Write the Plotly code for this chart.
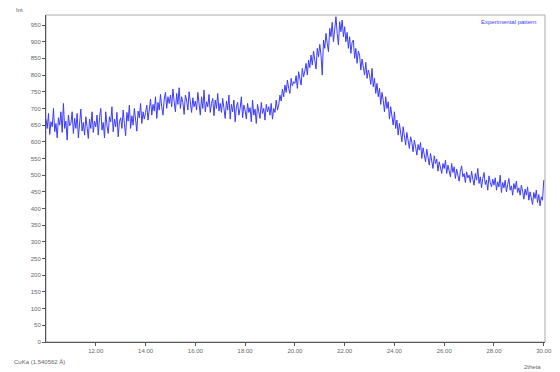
import numpy as np
import plotly.graph_objects as go

# 2-theta scan grid (degrees), 0.05 deg step from 10 to 30
two_theta_start = 10.0
two_theta_step = 0.05

# Measured intensities, one row per degree
intensity = [
    668, 640, 685, 622, 660, 645, 700, 630, 655, 612, 672, 650, 690, 628, 715, 640, 662, 605, 680, 648,
    655, 690, 625, 670, 640, 685, 612, 660, 698, 632, 658, 620, 675, 645, 610, 668, 640, 690, 628, 662,
    645, 680, 620, 672, 700, 635, 658, 612, 690, 648, 625, 675, 660, 705, 630, 668, 645, 688, 615, 660,
    672, 640, 695, 655, 618, 688, 662, 710, 640, 678, 650, 700, 668, 632, 692, 672, 715, 655, 690, 668,
    688, 710, 665, 700, 728, 680, 712, 692, 735, 670, 718, 695, 742, 705, 680, 728, 748, 700, 735, 715,
    740, 705, 758, 720, 690, 745, 712, 762, 700, 735, 718, 682, 740, 725, 695, 750, 712, 688, 732, 705,
    722, 695, 748, 710, 680, 735, 700, 755, 690, 720, 705, 742, 688, 715, 730, 678, 725, 700, 745, 692,
    715, 688, 730, 700, 670, 722, 695, 740, 668, 712, 690, 725, 660, 705, 718, 680, 700, 735, 672, 710,
    695, 668, 715, 688, 702, 660, 725, 680, 698, 655, 712, 690, 670, 718, 685, 700, 665, 712, 690, 705,
    680, 715, 668, 700, 688, 725, 695, 710, 740, 722, 758, 735, 770, 748, 785, 760, 745, 790, 768, 780,
    775, 798, 760, 810, 785, 770, 820, 795, 812, 835, 800, 845, 822, 860, 830, 872, 845, 818, 880, 855,
    892, 860, 800, 905, 880, 925, 895, 870, 940, 915, 958, 900, 935, 975, 925, 890, 960, 930, 965, 915,
    945, 900, 928, 880, 915, 865, 898, 905, 850, 880, 835, 872, 860, 815, 848, 825, 800, 838, 790, 815,
    800, 772, 820, 765, 790, 745, 775, 735, 760, 712, 748, 725, 690, 735, 700, 720, 668, 705, 680, 650,
    690, 640, 665, 620, 655, 632, 600, 645, 618, 590, 628, 605, 580, 615, 598, 570, 605, 585, 560, 592,
    575, 598, 550, 582, 562, 540, 578, 555, 530, 565, 545, 520, 558, 535, 548, 512, 540, 525, 505, 535,
    520, 545, 505, 530, 512, 495, 535, 508, 525, 490, 518, 500, 482, 512, 528, 495, 505, 478, 510, 492,
    500, 478, 512, 488, 470, 505, 485, 520, 475, 495, 462, 490, 508, 472, 485, 455, 498, 478, 465, 488,
    470, 492, 455, 480, 465, 500, 448, 478, 462, 485, 450, 472, 490, 455, 468, 440, 475, 458, 482, 448,
    462, 440, 470, 452, 428, 458, 440, 465, 425, 450, 435, 412, 448, 430, 455, 418, 442, 408, 435, 425,
    485,
]
two_theta = np.round(two_theta_start + two_theta_step * np.arange(len(intensity)), 2)

x_ticks = [12, 14, 16, 18, 20, 22, 24, 26, 28, 30]
y_ticks = list(range(0, 1000, 50))

series_name = "Experimental pattern"
y_title = "Int"
x_title = "2theta"
radiation = "CuKa (1.540562 Å)"

font_family = "Liberation Sans, Arial, sans-serif"
label_color = "#666666"
line_color = "#3b3bff"

fig = go.Figure()
fig.add_trace(go.Scatter(
    x=two_theta, y=intensity, mode="lines",
    line=dict(color=line_color, width=1),
    name=series_name, showlegend=False,
))

axis_common = dict(
    showgrid=False, zeroline=False,
    showline=True, linecolor="#555555", linewidth=1,
    ticks="outside", ticklen=3, tickcolor="#555555",
    tickfont=dict(family=font_family, size=6, color=label_color),
)

fig.update_layout(
    width=560, height=372,
    margin=dict(l=46, r=8, t=15, b=30),
    paper_bgcolor="white", plot_bgcolor="white",
    xaxis=dict(range=[10, 30.05], tickvals=x_ticks, tickformat=".2f", **axis_common),
    yaxis=dict(range=[0, 980], tickvals=y_ticks, **axis_common),
    shapes=[
        dict(type="rect", xref="paper", yref="paper", x0=0, y0=0, x1=1, y1=1,
             line=dict(color="#aaaaaa", width=1), layer="below"),
    ],
    annotations=[
        dict(text=series_name, xref="paper", yref="paper", x=0.985, y=0.995,
             xanchor="right", yanchor="top", showarrow=False,
             font=dict(family=font_family, size=6, color=line_color)),
        dict(text=y_title, xref="paper", yref="paper", x=-0.065, y=1.0,
             xanchor="left", yanchor="bottom", showarrow=False,
             font=dict(family=font_family, size=6, color=label_color)),
        dict(text=radiation, xref="paper", yref="paper", x=-0.068, y=-0.045,
             xanchor="left", yanchor="top", showarrow=False,
             font=dict(family=font_family, size=6, color=label_color)),
        dict(text=x_title, xref="paper", yref="paper", x=0.995, y=-0.06,
             xanchor="right", yanchor="top", showarrow=False,
             font=dict(family=font_family, size=6, color=label_color)),
    ],
)

fig.write_html("out.html")
